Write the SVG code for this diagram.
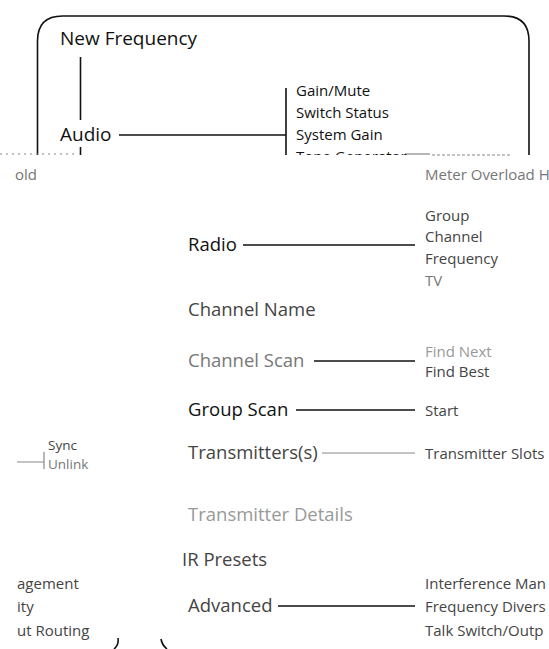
<svg xmlns="http://www.w3.org/2000/svg" width="549" height="649" viewBox="0 0 549 649">
<style>
text{font-family:"Open Sans","Noto Sans","Liberation Sans",sans-serif;fill:#111}
.m{font-size:18.5px}
.s{font-size:15px}
.t{font-size:13.5px}
.g1{fill:#444}
.g2{fill:#777}
.g3{fill:#999}
.ln{stroke:#111;stroke-width:1.6;fill:none}
.lg{stroke:#888;stroke-width:1.2;fill:none}
</style>
<defs>
<clipPath id="top"><rect x="0" y="0" width="549" height="155"/></clipPath>
</defs>
<rect width="549" height="649" fill="#fff"/>
<g id="connectors">
<g clip-path="url(#top)">
<path class="ln" d="M37.5,160 V41 Q37.5,16 62.5,16 H504 Q529,16 529,41 V160"/>
<path class="ln" d="M80.5,57 V120"/>
<path class="ln" d="M80.5,147 V160"/>
<path class="ln" d="M119,135 H286"/>
<path class="ln" d="M286,88 V160"/>
</g>
<path class="lg" d="M405,154 H430"/>
<path class="lg" d="M432,155 H512" stroke-dasharray="3 2" stroke="#aaa"/>
<path class="lg" d="M0,154 H75" stroke-dasharray="2 4" stroke="#ccc"/>
<path class="ln" d="M243,245 H415"/>
<path class="ln" d="M314,361 H415"/>
<path class="ln" d="M296,410 H415"/>
<path class="lg" d="M322,453 H415"/>
<path class="lg" d="M17,462 H44 M44,452 V469"/>
<path class="ln" d="M278,606 H415"/>
<path class="ln" d="M118,638 Q119,645 114,649" stroke-width="1.3"/>
<path class="ln" d="M161,639 Q162,645 167,649" stroke-width="1.3"/>
</g>
<g id="new-frequency"><text class="m" x="60" y="45" style="font-size:19px">New Frequency</text></g>
<g id="audio"><text class="m" x="60" y="141" style="font-size:19px">Audio</text></g>
<g id="audio-items" clip-path="url(#top)">
<text class="s" x="296" y="96">Gain/Mute</text>
<text class="s" x="296" y="118">Switch Status</text>
<text class="s" x="296" y="140">System Gain</text>
<text class="s" x="296" y="162">Tone Generator</text>
</g>
<g id="fragments-top">
<text class="s g2" x="425" y="180">Meter Overload H</text>
<text class="s g2" x="15" y="180">old</text>
</g>
<g id="radio">
<text class="m" x="188" y="251">Radio</text>
<text class="s g1" x="425" y="221">Group</text>
<text class="s g1" x="425" y="242">Channel</text>
<text class="s g1" x="425" y="264">Frequency</text>
<text class="s g2" x="425" y="286">TV</text>
</g>
<g id="channel-name"><text class="m g1" x="188" y="316">Channel Name</text></g>
<g id="channel-scan">
<text class="m g2" x="188" y="367">Channel Scan</text>
<text class="s g3" x="425" y="357">Find Next</text>
<text class="s g1" x="425" y="377">Find Best</text>
</g>
<g id="group-scan">
<text class="m" x="188" y="416">Group Scan</text>
<text class="s g1" x="425" y="416">Start</text>
</g>
<g id="sync">
<text class="t g1" x="48" y="450">Sync</text>
<text class="t g2" x="48" y="469">Unlink</text>
</g>
<g id="transmitters">
<text class="m g1" x="188" y="459">Transmitters(s)</text>
<text class="s g1" x="425" y="459">Transmitter Slots</text>
</g>
<g id="transmitter-details"><text class="m g3" x="188" y="521">Transmitter Details</text></g>
<g id="ir-presets"><text class="m g1" x="182" y="566">IR Presets</text></g>
<g id="advanced">
<text class="m g1" x="188" y="612">Advanced</text>
<text class="s g1" x="425" y="589">Interference Man</text>
<text class="s g1" x="425" y="612">Frequency Divers</text>
<text class="s g1" x="425" y="636">Talk Switch/Outp</text>
</g>
<g id="fragments-left">
<text class="s g1" x="17" y="589">agement</text>
<text class="s g1" x="17" y="612">ity</text>
<text class="s g1" x="17" y="636">ut Routing</text>
</g>
</svg>
